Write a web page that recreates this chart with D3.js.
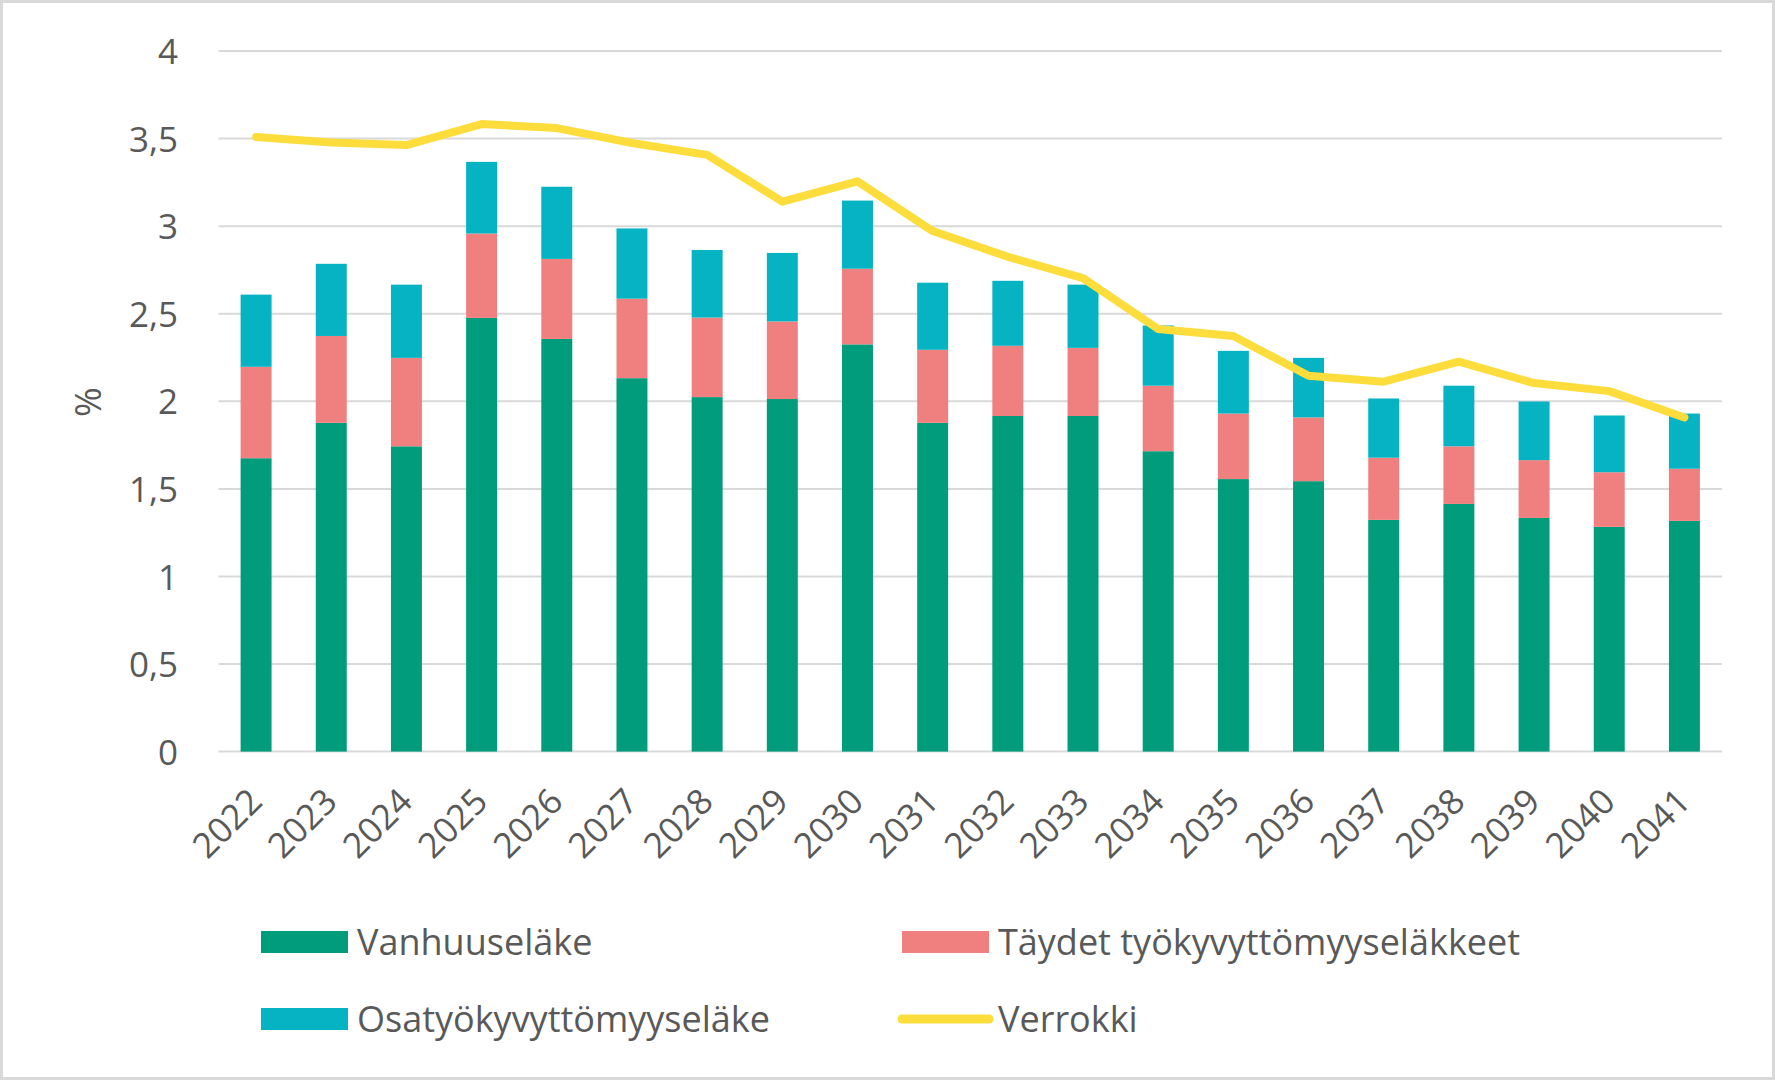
<!DOCTYPE html>
<html>
<head>
<meta charset="utf-8">
<script src="https://cdn.jsdelivr.net/npm/d3@7"></script>
<style>
  html, body { margin: 0; padding: 0; background: #fff; }
  svg { display: block; }
  text { font-family: "Open Sans", "Noto Sans", sans-serif; fill: #595959; }
</style>
</head>
<body>
<svg id="chart" width="1775" height="1080"></svg>
<script>
const years = ["2022","2023","2024","2025","2026","2027","2028","2029","2030","2031","2032","2033","2034","2035","2036","2037","2038","2039","2040","2041"];
const vanhuuselake = [1.675,1.877,1.743,2.476,2.356,2.132,2.024,2.013,2.325,1.877,1.916,1.916,1.715,1.556,1.544,1.323,1.414,1.334,1.283,1.317];
const taydet = [0.522,0.496,0.505,0.482,0.457,0.454,0.454,0.443,0.432,0.417,0.401,0.389,0.374,0.374,0.364,0.355,0.329,0.330,0.312,0.298];
const osa = [0.412,0.412,0.418,0.409,0.412,0.401,0.386,0.391,0.389,0.383,0.371,0.361,0.344,0.358,0.340,0.338,0.346,0.335,0.324,0.315];
const verrokki = [3.509,3.478,3.463,3.583,3.560,3.475,3.407,3.140,3.256,2.972,2.825,2.703,2.413,2.373,2.146,2.112,2.226,2.104,2.058,1.908];
const yTicks = [0,0.5,1,1.5,2,2.5,3,3.5,4];
const seriesNames = ["Vanhuuseläke","Täydet työkyvyttömyyseläkkeet","Osatyökyvyttömyyseläke","Verrokki"];
const colors = ["#009C7B","#F08080","#05B3C2","#FDDD3C"];

const svg = d3.select("#chart");
const W = 1775, H = 1080;
const plot = {left: 218.5, right: 1722, top: 51, bottom: 751.6};

svg.append("rect").attr("x",1.5).attr("y",1.5).attr("width",W-3).attr("height",H-3)
  .attr("fill","#fff").attr("stroke","#d9d9d9").attr("stroke-width",3);

const x = d3.scaleBand().domain(years).range([plot.left, plot.right]).paddingInner(0.588).paddingOuter(0.294);
const y = d3.scaleLinear().domain([0,4]).range([plot.bottom, plot.top]);

// gridlines
svg.append("g").selectAll("line").data(yTicks).join("line")
  .attr("x1", plot.left).attr("x2", plot.right)
  .attr("y1", d => y(d)).attr("y2", d => y(d))
  .attr("stroke", "#d9d9d9").attr("stroke-width", 2);

// y axis labels
const fmt = d => String(d).replace(".", ",");
const yAxis = d3.axisLeft(y).tickValues(yTicks).tickFormat(fmt).tickSize(0).tickPadding(0);
const gy = svg.append("g").attr("transform", `translate(178,0)`).call(yAxis);
gy.select(".domain").remove();
gy.selectAll("text").style("font-size","35px").attr("fill","#595959").attr("dy","0.36em")
  .style("font-family",'"Open Sans", sans-serif');

// y title
svg.append("text").attr("transform", `translate(101,402) rotate(-90)`)
  .attr("text-anchor","middle").style("font-size","36px").text("%");

// stacked data
const rows = years.map((yr,i) => ({year: yr, a: vanhuuselake[i], b: taydet[i], c: osa[i]}));
const stack = d3.stack().keys(["a","b","c"])(rows);
svg.append("g").selectAll("g").data(stack).join("g")
  .attr("fill", (d,i) => colors[i])
  .selectAll("rect").data(d => d).join("rect")
  .attr("x", d => x(d.data.year))
  .attr("width", x.bandwidth())
  .attr("y", d => y(d[1]))
  .attr("height", d => y(d[0]) - y(d[1]));

// line
const line = d3.line().x((d,i) => x(years[i]) + x.bandwidth()/2).y(d => y(d));
svg.append("path").datum(verrokki).attr("d", line)
  .attr("fill","none").attr("stroke", colors[3]).attr("stroke-width", 8)
  .attr("stroke-linejoin","round").attr("stroke-linecap","round");

// x axis labels
const xAxis = d3.axisBottom(x).tickSize(0).tickPadding(0);
const gx = svg.append("g").attr("transform", `translate(0,${plot.bottom})`).call(xAxis);
gx.select(".domain").remove();
gx.selectAll("text")
  .style("font-size","35px").style("font-family",'"Open Sans", sans-serif').attr("fill","#595959")
  .attr("text-anchor","end")
  .attr("dy", null).attr("y", 0)
  .attr("transform", "translate(8,52) rotate(-45)");

// legend
const legend = [
  {name: seriesNames[0], color: colors[0], type: "rect", x: 261, y: 942},
  {name: seriesNames[1], color: colors[1], type: "rect", x: 902, y: 942},
  {name: seriesNames[2], color: colors[2], type: "rect", x: 261, y: 1019},
  {name: seriesNames[3], color: colors[3], type: "line", x: 902, y: 1019}
];
const lg = svg.append("g").selectAll("g").data(legend).join("g")
  .attr("transform", d => `translate(${d.x},${d.y})`);
lg.filter(d => d.type === "rect").append("rect")
  .attr("x",0).attr("y",-11).attr("width",87).attr("height",22).attr("fill", d => d.color);
lg.filter(d => d.type === "line").append("line")
  .attr("x1",0).attr("x2",87).attr("y1",0).attr("y2",0)
  .attr("stroke", d => d.color).attr("stroke-width",9).attr("stroke-linecap","round");
lg.append("text").attr("x",96).attr("y",0).attr("dy","0.36em")
  .style("font-size","36px").text(d => d.name);
</script>
</body>
</html>
